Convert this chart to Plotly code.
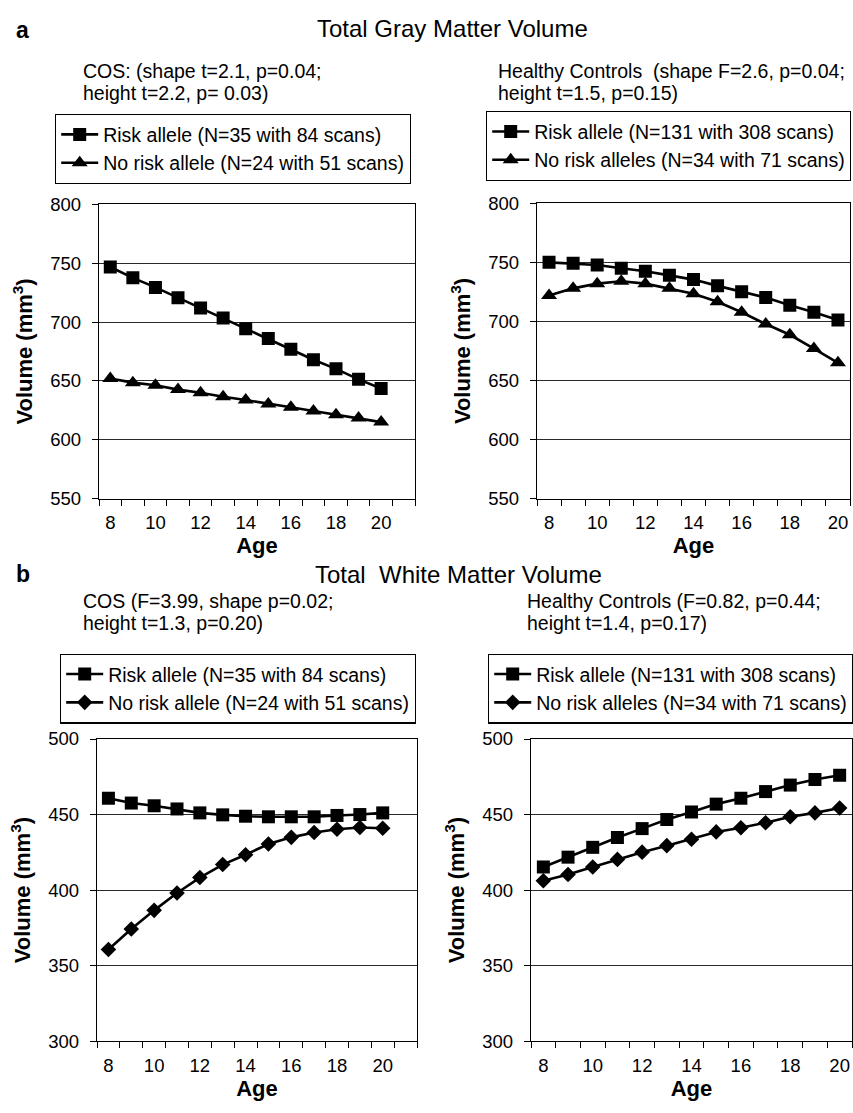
import plotly.graph_objects as go

# ---------------- data ----------------
ages = list(range(8, 21))
x_tick_vals = [8, 10, 12, 14, 16, 18, 20]
gm_y_ticks = [550, 600, 650, 700, 750, 800]
wm_y_ticks = [300, 350, 400, 450, 500]

gm_cos_risk = [746.7, 737.5, 729.4, 720.7, 711.8, 703.4, 694.2, 685.9, 676.9, 668.0, 660.2, 651.3, 643.5]
gm_cos_norisk = [652.0, 648.5, 646.3, 642.6, 640.0, 636.5, 633.7, 630.4, 627.6, 624.5, 621.2, 618.4, 615.0]
gm_hc_risk = [750.0, 749.2, 747.8, 745.0, 742.5, 739.0, 735.4, 730.1, 725.2, 720.2, 713.6, 707.8, 701.2]
gm_hc_norisk = [722.0, 728.0, 732.0, 734.0, 732.0, 728.0, 723.4, 716.6, 707.8, 697.8, 688.7, 677.0, 665.0]

wm_cos_risk = [460.8, 457.6, 455.8, 453.7, 451.1, 449.8, 448.9, 448.5, 448.5, 448.5, 449.4, 450.0, 451.1]
wm_cos_norisk = [360.7, 374.3, 386.6, 398.1, 408.3, 416.9, 423.4, 430.5, 434.9, 438.1, 440.3, 441.4, 440.9]
wm_hc_risk = [415.3, 421.8, 428.3, 434.8, 440.7, 446.7, 451.7, 456.9, 460.8, 465.2, 469.5, 473.2, 476.0]
wm_hc_norisk = [406.2, 410.3, 415.3, 420.3, 425.1, 429.4, 433.7, 438.5, 441.3, 444.6, 448.5, 451.1, 454.3]

names_cos = ["Risk allele (N=35 with 84 scans)", "No risk allele (N=24 with 51 scans)"]
names_hc = ["Risk allele (N=131 with 308 scans)", "No risk alleles (N=34 with 71 scans)"]

# ---------------- layout helpers ----------------
W, H = 853, 1113
FONT = "Arial, 'Liberation Sans', Helvetica, sans-serif"


def px_x(a, b):
    return [a / W, b / W]


def px_y(top, bottom):
    return [1 - bottom / H, 1 - top / H]


fig = go.Figure()

panels = [
    ("", gm_cos_risk, gm_cos_norisk, "triangle-up", "legend", names_cos),
    ("2", gm_hc_risk, gm_hc_norisk, "triangle-up", "legend2", names_hc),
    ("3", wm_cos_risk, wm_cos_norisk, "diamond", "legend3", names_cos),
    ("4", wm_hc_risk, wm_hc_norisk, "diamond", "legend4", names_hc),
]

for suf, s1, s2, sym2, leg, names in panels:
    fig.add_trace(go.Scatter(
        x=ages, y=s1, mode="lines+markers", name=names[0],
        line=dict(color="black", width=2.6),
        marker=dict(symbol="square", size=13, color="black"),
        xaxis="x" + suf, yaxis="y" + suf, legend=leg))
    fig.add_trace(go.Scatter(
        x=ages, y=s2, mode="lines+markers", name=names[1],
        line=dict(color="black", width=2.6),
        marker=dict(symbol=sym2, size=14 if sym2 == "triangle-up" else 12, color="black"),
        xaxis="x" + suf, yaxis="y" + suf, legend=leg))

xdoms = {"": px_x(99, 415), "2": px_x(537, 850), "3": px_x(97, 417), "4": px_x(531, 852)}
ydoms = {"": px_y(197, 497), "2": px_y(196, 497), "3": px_y(742, 1050), "4": px_y(742, 1050)}
xranges = {"": [7.5, 21.5], "2": [7.5, 20.5], "3": [7.5, 21.5], "4": [7.5, 20.5]}
yranges = {"": [550, 800], "2": [550, 800], "3": [300, 500], "4": [300, 500]}
yticks = {"": gm_y_ticks, "2": gm_y_ticks, "3": wm_y_ticks, "4": wm_y_ticks}

layout = dict(
    width=W, height=H,
    margin=dict(l=0, r=0, t=0, b=0),
    paper_bgcolor="white", plot_bgcolor="white",
    font=dict(family=FONT, color="black", size=18),
)

for suf in ["", "2", "3", "4"]:
    layout["xaxis" + suf] = dict(
        domain=xdoms[suf], range=xranges[suf], anchor="y" + suf,
        tickmode="array", tickvals=x_tick_vals, ticks="",
        ticklabelstandoff=7,
        tickfont=dict(size=18.5),
        showline=True, linecolor="black", linewidth=1.4, mirror=True,
        showgrid=False, zeroline=False,
        minor=dict(tickmode="linear", tick0=7.5, dtick=1, ticks="outside",
                   ticklen=6, tickcolor="black", tickwidth=1.2, showgrid=False),
        title=dict(text="<b>Age</b>", font=dict(size=22), standoff=3),
    )
    layout["yaxis" + suf] = dict(
        domain=ydoms[suf], range=yranges[suf], anchor="x" + suf,
        tickmode="array", tickvals=yticks[suf],
        ticks="outside", ticklen=6, tickcolor="black", tickwidth=1.2,
        ticklabelstandoff=7,
        tickfont=dict(size=18.5),
        showline=True, linecolor="black", linewidth=1.4, mirror=True,
        showgrid=True, gridcolor="#2a2a2a", gridwidth=1.1, zeroline=False,
        title=dict(text="<b>Volume (mm<sup>3</sup>)</b>", font=dict(size=22), standoff=11),
    )

legend_pos = {
    "legend": (55, 105),
    "legend2": (486, 102),
    "legend3": (60, 655),
    "legend4": (488, 655),
}
for key, (lx, ly) in legend_pos.items():
    layout[key] = dict(
        x=lx / W, y=1 - ly / H, xanchor="left", yanchor="top",
        xref="paper", yref="paper",
        bordercolor="black", borderwidth=1.2, bgcolor="white",
        font=dict(size=19.5), itemwidth=37, tracegroupgap=0,
    )

fig.update_layout(**layout)


def ann(text, x, y, size, xanchor="left", bold=False):
    fig.add_annotation(
        text=("<b>%s</b>" % text) if bold else text,
        x=x / W, y=1 - y / H, xref="paper", yref="paper",
        xanchor=xanchor, yanchor="middle", showarrow=False,
        font=dict(size=size, family=FONT, color="black"))


ann("a", 14, 19, 23, bold=True)
ann("Total Gray Matter Volume", 452, 18, 24, xanchor="center")
ann("COS: (shape t=2.1, p=0.04;", 81, 61, 19.5)
ann("height t=2.2, p= 0.03)", 81, 84, 19.5)
ann("Healthy Controls  (shape F=2.6, p=0.04;", 496, 61, 19.5)
ann("height t=1.5, p=0.15)", 496, 84, 19.5)

ann("b", 14, 574, 23, bold=True)
ann("Total  White Matter Volume", 459, 574, 24, xanchor="center")
ann("COS (F=3.99, shape p=0.02;", 81, 601, 19.5)
ann("height t=1.3, p=0.20)", 81, 624, 19.5)
ann("Healthy Controls (F=0.82, p=0.44;", 525, 601, 19.5)
ann("height t=1.4, p=0.17)", 525, 624, 19.5)

fig.write_html(
    "out.html",
    config={"displayModeBar": False},
    post_script="document.body.style.margin='0px';document.body.style.overflow='hidden';",
)
